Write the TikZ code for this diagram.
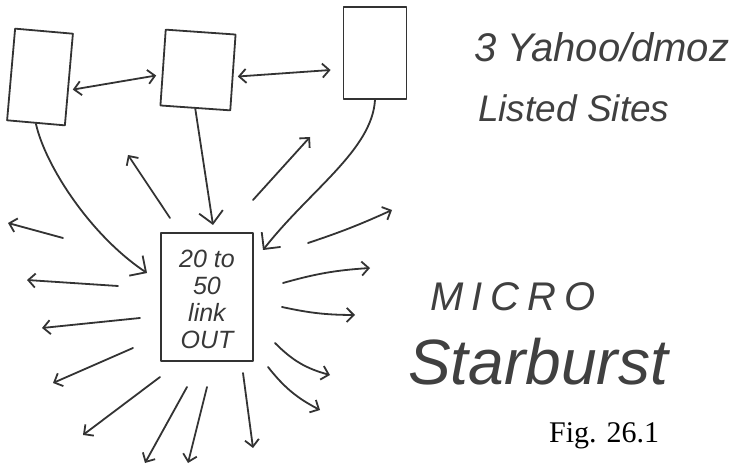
\documentclass[tikz,border=0pt]{standalone}
\usepackage{fontspec}
\setmainfont{Liberation Serif}
\newfontfamily\hand{Liberation Sans}
\usetikzlibrary{arrows.meta,calc}
\begin{document}
\begin{tikzpicture}[x=1pt,y=-1pt,
  pen/.style={draw=black!80,line width=1.8pt,line cap=round,line join=round},
  sitebox/.style={pen,rectangle,inner sep=0pt},
  outarr/.style={pen,-{Straight Barb[length=7pt,width=14pt]}},
  inarr/.style={pen,-{Straight Barb[length=12pt,width=24pt]}},
  dblarr/.style={pen,{Straight Barb[length=7pt,width=14pt]}-{Straight Barb[length=7pt,width=14pt]}},
  handtxt/.style={text=black!75,inner sep=0pt,anchor=base west}]
\useasboundingbox (0,0) rectangle (740,468);
% boxes
\node[sitebox,minimum width=58pt,minimum height=92pt,rotate=-5] (b1) at (40,77) {};
\node[sitebox,minimum width=70pt,minimum height=76pt,rotate=-4] (b2) at (198,70) {};
\node[sitebox,minimum width=63pt,minimum height=92pt] (b3) at (375,53) {};
\node[sitebox,minimum width=92pt,minimum height=128pt] (c) at (207,297) {};
\node[font=\hand\itshape\fontsize{25}{27}\selectfont,text=black!78,align=center,inner sep=0pt] (ct) at ($(c)+(0,2)$) {20 to\\50\\link\\OUT};
% links between sites
\draw[dblarr] ($(b1.east)+(3,10)$) -- ($(b2.west)+(-6,8)$);
\draw[dblarr] ($(b2.east)+(4,4)$) -- ($(b3.west)+(-12,17)$);
% incoming
\coordinate (i1) at (147,273);
\coordinate (i2) at (213,225);
\coordinate (i3) at (263,250);
\draw[inarr] (b1.south) .. controls (45,165) and (90,235) .. (i1);
\draw[inarr] (b2.south) -- (i2);
\draw[inarr] (b3.south) .. controls (372,150) and (310,190) .. (i3);
% outgoing
\foreach \ax/\ay/\bx/\by/\b [count=\k] in {
  170/218/128/155/0,
  253/200/310/137/0,
  308/243/392/210/-3,
  63/238/8/223/0,
  118/286/27/280/0,
  140/318/42/328/0,
  133/348/53/383/0,
  160/377/83/435/0,
  187/387/145/463/0,
  207/387/188/463/0,
  243/373/253/448/0,
  283/283/370/268/6,
  282/307/355/315/-6,
  275/343/330/375/-15,
  268/367/320/410/-12}
  {\coordinate (s\k) at (\ax,\ay);
   \coordinate (e\k) at (\bx,\by);
   \draw[outarr] (s\k) to[bend left=\b] (e\k);}
% labels
\node[handtxt,font=\hand\itshape\fontsize{40}{40}\selectfont] (t1) at (474,62) {3 Yahoo/dmoz};
\node[handtxt,font=\hand\itshape\fontsize{37}{37}\selectfont] (t2) at (478,122) {Listed Sites};
\node[handtxt,font=\hand\itshape\fontsize{40}{40}\selectfont\addfontfeature{LetterSpace=20}] (t3) at (430,310) {MICRO};
\node[handtxt,font=\hand\itshape\fontsize{64}{64}\selectfont] (t4) at (408,384) {Starburst};
\node[font=\fontsize{30}{30}\selectfont,inner sep=0pt,anchor=base west] (fig) at (549,442) {Fig. 26.1};
\end{tikzpicture}
\end{document}
